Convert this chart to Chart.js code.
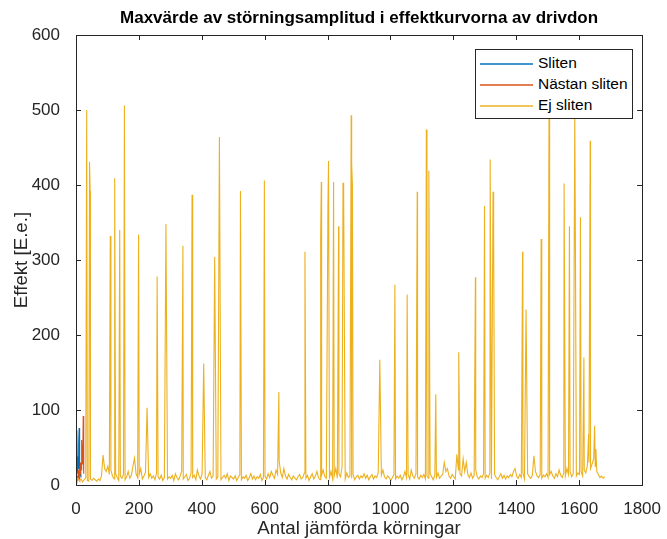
<!DOCTYPE html>
<html>
<head>
<meta charset="utf-8">
<script src="https://cdn.jsdelivr.net/npm/chart.js@4/dist/chart.umd.min.js"></script>
<style>
    body { margin: 0; background: #fff; }
    #wrap { position: relative; width: 667px; height: 539px; }
    #legend {
        position: absolute; left: 475px; top: 49px; width: 158px; height: 70px;
        box-sizing: border-box; border: 1px solid #262626; background: #fff;
        font-family: "Liberation Sans", Arial, Helvetica, sans-serif; font-size: 15.5px; color: #000;
    }
    #legend .item { position: absolute; left: 4px; height: 20px; line-height: 20px; white-space: nowrap; }
    #legend .swatch { display: inline-block; width: 53px; height: 2px; vertical-align: middle; margin-right: 5px; opacity: 0.75; }
</style>
</head>
<body>
<div id="wrap">
    <canvas id="chart" width="667" height="539"></canvas>
    <div id="legend"></div>
</div>
<script>
// axis ticks
const xTicks = [0, 200, 400, 600, 800, 1000, 1200, 1400, 1600, 1800];
const yTicks = [0, 100, 200, 300, 400, 500, 600];

// "Sliten" runs 1..16, "Nästan sliten" runs 1..25
const slitenValues = [20, 45, 73, 30, 15, 38, 22, 40, 55, 76, 35, 20, 28, 12, 18, 10];
const nastanValues = [5, 8, 4, 12, 6, 10, 15, 8, 20, 12, 18, 9, 25, 14, 30, 20, 38, 22, 60, 28, 45, 35, 92, 40, 15];

// "Ej sliten": background level sampled every 5th run (1, 6, 11, ...)
const ejStep = 5;
const ejBase = [
    6, 9, 5, 8, 4, 7, 10, 6, 5, 8, 6, 9, 7, 5, 8, 6, 12, 40, 22, 18,
    25, 14, 20, 12, 8, 15, 10, 6, 12, 9, 14, 7, 11, 18, 9, 13, 25, 36, 15, 10,
    14, 22, 8, 12, 17, 6, 10, 15, 9, 12, 7, 16, 11, 8, 13, 6, 10, 14, 8, 11,
    9, 13, 6, 15, 10, 7, 12, 18, 8, 11, 14, 6, 9, 16, 10, 13, 7, 20, 12, 8,
    15, 22, 10, 7, 13, 18, 9, 12, 16, 8, 11, 14, 7, 10, 13, 9, 15, 6, 12, 10,
    8, 12, 6, 10, 14, 7, 11, 9, 13, 6, 10, 15, 8, 12, 7, 11, 9, 14, 6, 10,
    12, 8, 15, 10, 18, 13, 9, 20, 14, 32, 16, 10, 22, 12, 8, 14, 10, 7, 12, 9,
    7, 11, 14, 8, 10, 16, 9, 13, 6, 11, 15, 8, 12, 18, 10, 7, 13, 20, 11, 9,
    14, 10, 18, 8, 12, 22, 9, 15, 11, 24, 13, 8, 16, 10, 12, 9, 14, 7, 11, 13,
    8, 12, 10, 15, 9, 13, 7, 11, 14, 8, 12, 10, 16, 9, 13, 20, 11, 8, 12, 10,
    6, 10, 14, 8, 12, 9, 13, 7, 11, 18, 10, 14, 8, 20, 12, 9, 15, 11, 8, 13,
    10, 14, 8, 12, 9, 15, 11, 7, 13, 10, 16, 9, 12, 14, 30, 18, 22, 12, 9, 14,
    11, 8, 41, 20, 15, 12, 35, 18, 30, 14, 10, 16, 9, 13, 20, 11, 8, 12, 10, 15,
    9, 13, 10, 16, 8, 12, 14, 10, 7, 11, 15, 9, 13, 8, 12, 10, 14, 11, 18, 22,
    12, 9, 14, 10, 16, 8, 12, 15, 11, 9, 13, 39, 18, 12, 10, 14, 9, 13, 11, 15,
    10, 14, 18, 12, 9, 15, 11, 20, 13, 10, 16, 12, 22, 14, 18, 11, 15, 24, 12, 16,
    14, 18, 12, 20, 16, 26, 30, 22, 28, 35, 25, 18, 14, 10, 12, 9, 11
];

// "Ej sliten": single-run peaks [run, value]
const ejPeaks = [
    [34, 500], [43, 431], [45, 392], [109, 332], [123, 409], [139, 340], [154, 506],
    [199, 334], [226, 103], [258, 278], [286, 348], [340, 319], [369, 387], [406, 162],
    [441, 304], [456, 464], [523, 392], [599, 406], [645, 124], [728, 311], [778, 330],
    [780, 404], [801, 371], [803, 432], [819, 404], [835, 345], [849, 403], [851, 392],
    [875, 493], [877, 429], [879, 399], [966, 167], [1014, 267], [1053, 254], [1085, 391],
    [1114, 474], [1122, 419], [1144, 121], [1217, 177], [1270, 277], [1299, 372], [1317, 434],
    [1326, 391], [1328, 335], [1420, 311], [1431, 234], [1479, 328], [1504, 495], [1552, 402],
    [1569, 345], [1586, 492], [1588, 318], [1604, 357], [1615, 170], [1630, 68], [1635, 459],
    [1649, 79], [1653, 48]
];

const seriesNames = ['Sliten', 'Nästan sliten', 'Ej sliten'];
const seriesColors = ['#0072BD', '#D95319', '#EDB120'];
const chartTitle = 'Maxvärde av störningsamplitud i effektkurvorna av drivdon';

const FONT = '"Liberation Sans", Arial, Helvetica, sans-serif';
const AXIS_COLOR = '#262626';

function runPoints(values) {
    return values.map((v, i) => ({ x: i + 1, y: v }));
}

function ejPoints() {
    const peakRuns = new Set(ejPeaks.map(p => p[0]));
    const pts = ejBase
        .map((v, i) => ({ x: 1 + i * ejStep, y: v }))
        .filter(p => !peakRuns.has(p.x));
    ejPeaks.forEach(([x, y]) => pts.push({ x: x, y: y }));
    return pts.sort((a, b) => a.x - b.x);
}

// box around the plot with inward tick marks on all four sides,
// and the title centred over the plot area
const axesBox = {
    id: 'axesBox',
    afterDraw(chart) {
        const { ctx, chartArea: a, scales } = chart;
        const len = 5;
        ctx.save();
        ctx.strokeStyle = AXIS_COLOR;
        ctx.lineWidth = 1;
        ctx.beginPath();
        xTicks.forEach(t => {
            const px = Math.round(scales.x.getPixelForValue(t)) + 0.5;
            ctx.moveTo(px, a.bottom); ctx.lineTo(px, a.bottom - len);
            ctx.moveTo(px, a.top); ctx.lineTo(px, a.top + len);
        });
        yTicks.forEach(t => {
            const py = Math.round(scales.y.getPixelForValue(t)) + 0.5;
            ctx.moveTo(a.left, py); ctx.lineTo(a.left + len, py);
            ctx.moveTo(a.right, py); ctx.lineTo(a.right - len, py);
        });
        ctx.stroke();
        ctx.strokeRect(Math.round(a.left) + 0.5, Math.round(a.top) + 0.5,
            Math.round(a.right - a.left), Math.round(a.bottom - a.top));

        ctx.fillStyle = '#000';
        ctx.font = 'bold 17px ' + FONT;
        ctx.textAlign = 'center';
        ctx.textBaseline = 'middle';
        ctx.fillText(chartTitle, (a.left + a.right) / 2, 18);
        ctx.restore();
    }
};

const datasets = [
    { label: seriesNames[2], data: ejPoints(), borderColor: seriesColors[2], order: 0 },
    { label: seriesNames[1], data: runPoints(nastanValues), borderColor: seriesColors[1], order: 1 },
    { label: seriesNames[0], data: runPoints(slitenValues), borderColor: seriesColors[0], order: 2 }
].map(d => Object.assign(d, { borderWidth: 1.1, pointRadius: 0, tension: 0, fill: false }));

new Chart(document.getElementById('chart'), {
    type: 'line',
    data: { datasets: datasets },
    options: {
        responsive: false,
        animation: false,
        events: [],
        layout: { padding: { left: 0, right: 20, top: 35, bottom: 0 } },
        plugins: {
            legend: { display: false },
            tooltip: { enabled: false },
            title: { display: false }
        },
        scales: {
            x: {
                type: 'linear',
                min: 0,
                max: 1800,
                afterFit: s => { s.height = 54; },
                afterBuildTicks: s => { s.ticks = xTicks.map(v => ({ value: v })); },
                grid: { display: false },
                border: { display: false },
                ticks: {
                    color: AXIS_COLOR,
                    font: { family: FONT, size: 17 },
                    padding: 6,
                    maxRotation: 0,
                    callback: v => String(v)
                },
                title: {
                    display: true,
                    text: 'Antal jämförda körningar',
                    color: AXIS_COLOR,
                    font: { family: FONT, size: 18.7 },
                    padding: { top: 0, bottom: -1 }
                }
            },
            y: {
                min: 0,
                max: 600,
                afterFit: s => { s.width = 76; },
                afterBuildTicks: s => { s.ticks = yTicks.map(v => ({ value: v })); },
                grid: { display: false },
                border: { display: false },
                ticks: {
                    color: AXIS_COLOR,
                    font: { family: FONT, size: 17 },
                    padding: 8,
                    callback: v => String(v)
                },
                title: {
                    display: true,
                    text: 'Effekt [E.e.]',
                    color: AXIS_COLOR,
                    font: { family: FONT, size: 18.7 },
                    padding: { top: 11, bottom: 0 }
                }
            }
        }
    },
    plugins: [axesBox]
});

// legend in the upper right corner of the plot, in series order
const legend = document.getElementById('legend');
seriesNames.forEach((name, i) => {
    const item = document.createElement('div');
    item.className = 'item';
    item.style.top = (3 + i * 21) + 'px';
    item.innerHTML = '<span class="swatch" style="background:' + seriesColors[i] + '"></span>' + name;
    legend.appendChild(item);
});
</script>
</body>
</html>
